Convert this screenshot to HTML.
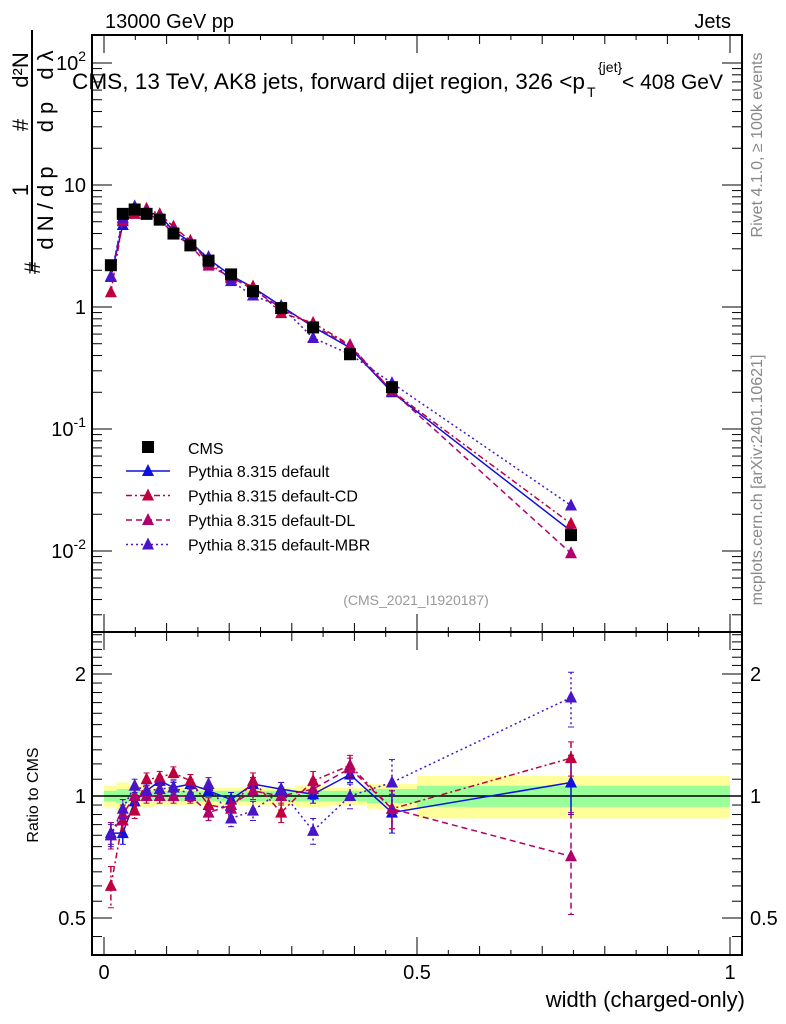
<!DOCTYPE html>
<html><head><meta charset="utf-8"><style>
body{margin:0;background:#fff;width:786px;height:1024px;overflow:hidden;font-family:"Liberation Sans",sans-serif}
svg{display:block}
text{font-family:"Liberation Sans",sans-serif}
</style></head><body>
<svg id="c" width="786" height="1024"></svg>
<script>
const xs=[0.011,0.030,0.049,0.068,0.089,0.111,0.138,0.167,0.203,0.238,0.283,0.334,0.393,0.460,0.746];
const cms=[2.2,5.8,6.3,5.8,5.2,4.0,3.2,2.4,1.85,1.35,0.98,0.68,0.41,0.22,0.0135];
const rDefault=[0.81,0.81,0.97,1.03,1.09,1.05,1.07,1.03,0.98,1.07,1.04,1.01,1.13,0.91,1.08];
const rCD=[0.60,0.87,0.92,1.10,1.11,1.14,1.09,0.95,0.93,1.09,0.91,1.09,1.19,0.93,1.24];
const rDL=[0.80,0.90,1.00,1.00,1.00,1.00,1.00,0.91,0.95,1.03,1.00,1.04,1.17,0.93,0.71];
const rMBR=[0.80,0.93,1.06,1.03,1.04,1.05,1.01,1.07,0.88,0.92,1.03,0.82,1.00,1.08,1.75];
const errDefault=[0.05,0.05,0.04,0.03,0.03,0.03,0.03,0.03,0.04,0.04,0.04,0.05,0.05,0.1,0.18];
const errCD=[0.07,0.05,0.04,0.04,0.04,0.04,0.04,0.04,0.04,0.05,0.05,0.06,0.07,0.1,0.12];
const errDL=[0.06,0.05,0.04,0.04,0.04,0.04,0.04,0.04,0.04,0.05,0.05,0.06,0.07,0.1,0.2];
const errMBR=[0.05,0.05,0.04,0.04,0.04,0.04,0.04,0.04,0.04,0.05,0.05,0.06,0.07,0.15,0.27];
const edges=[0,0.02,0.04,0.06,0.08,0.1,0.12,0.155,0.18,0.225,0.26,0.305,0.36,0.42,0.5,1];
const bandY=[0.06,0.08,0.06,0.06,0.05,0.05,0.05,0.05,0.05,0.05,0.05,0.06,0.05,0.07,0.12];
const bandG=[0.03,0.04,0.03,0.03,0.03,0.03,0.03,0.03,0.03,0.03,0.03,0.03,0.03,0.04,0.06];
const xTicks=[0,0.5,1];
const yMainTicks=[[100,"10"],[10,"10"],[1,"1"],[0.1,"10"],[0.01,"10"]];
const yRatioTicks=[[2,"2"],[1,"1"],[0.5,"0.5"]];

const S=document.getElementById('c');
const NS='http://www.w3.org/2000/svg';
function el(t,a,p){const e=document.createElementNS(NS,t);for(const k in a)e.setAttribute(k,a[k]);(p||S).appendChild(e);return e;}
const X=v=>104+626*v;
const YM=v=>307-122*Math.log10(v);
const YR=v=>796-122*Math.log2(v);
const L=92,R=742,T=35,M=632,B=955;

edges.slice(0,-1).forEach((e,i)=>{
  const r=el('rect',{x:X(e),y:YR(1+bandY[i]),width:X(edges[i+1])-X(e),height:YR(1-bandY[i])-YR(1+bandY[i]),fill:'#ffff99'});
  
  
});
edges.slice(0,-1).forEach((e,i)=>{
  const r=el('rect',{x:X(e),y:YR(1+bandG[i]),width:X(edges[i+1])-X(e),height:YR(1-bandG[i])-YR(1+bandG[i]),fill:'#99ff99'});
  
  
});
el('line',{x1:L,x2:R,y1:YR(1),y2:YR(1),stroke:'#000','stroke-width':1.5});

const f1=el('rect',{x:L,y:T,width:R-L,height:M-T,fill:'none',stroke:'#000','stroke-width':2});

const f2=el('rect',{x:L,y:M,width:R-L,height:B-M,fill:'none',stroke:'#000','stroke-width':2});


for(let v=0;v<=1.0001;v+=0.05){
  const big=Math.abs(v*2-Math.round(v*2))<1e-6, mid=Math.abs(v*10-Math.round(v*10))<1e-6;
  const h=big?18:(mid?9:5);
  [[T,1],[M,-1],[M,1],[B,-1]].forEach(([y,d])=>el('line',{x1:X(v),x2:X(v),y1:y,y2:y+d*h,stroke:'#000'}));
}
xTicks.forEach(v=>{const t=el('text',{x:X(v),y:979,'font-size':20,'text-anchor':'middle'});t.textContent=String(v);
});
for(let d=-3;d<=2;d++)for(let m=1;m<10;m++){const v=m*Math.pow(10,d);const y=YM(v);if(y<T||y>M)continue;
  const h=m==1?20:10;el('line',{x1:L,x2:L+h,y1:y,y2:y,stroke:'#000'});el('line',{x1:R,x2:R-h,y1:y,y2:y,stroke:'#000'});}
yMainTicks.forEach(([v,s])=>{const t=el('text',{x:86,y:YM(v)+7,'font-size':20,'text-anchor':'end'});
  
  if(s=="10"&&v!=10){const e=Math.round(Math.log10(v));t.textContent='10';const ts=el('tspan',{dy:-9,'font-size':14},t);ts.textContent=String(e);}else t.textContent=s;});
for(let v=0.45;v<=2.5;v+=0.05){const y=YR(v);if(y<M||y>B)continue;const big=[0.5,1,2].some(q=>Math.abs(q-v)<1e-6);
  const mid=Math.abs(v*10-Math.round(v*10))<1e-6;if(!mid&&v>1.01)continue;
  const h=big?20:10;el('line',{x1:L,x2:L+h,y1:y,y2:y,stroke:'#000'});el('line',{x1:R,x2:R-h,y1:y,y2:y,stroke:'#000'});}
yRatioTicks.forEach(([v,s])=>{[[86,'end'],[750,'start']].forEach(([x,a])=>{const t=el('text',{x:x,y:YR(v)+7,'font-size':20,'text-anchor':a});t.textContent=s;
  });});

const series=[
 {name:'default',r:rDefault,e:errDefault,c:'#1010e0',dash:'',lbl:'Pythia 8.315 default'},
 {name:'default-cd',r:rCD,e:errCD,c:'#c0003c',dash:'6,3,2,3',lbl:'Pythia 8.315 default-CD'},
 {name:'default-dl',r:rDL,e:errDL,c:'#b0006e',dash:'6,4',lbl:'Pythia 8.315 default-DL'},
 {name:'default-mbr',r:rMBR,e:errMBR,c:'#4a14c8',dash:'2,3',lbl:'Pythia 8.315 default-MBR'}];
function tri(x,y,c,g){el('polygon',{points:`${x},${y-7} ${x-6},${y+5} ${x+6},${y+5}`,fill:c},g);}
series.forEach(s=>{
  const g=el('g',{});
  const vals=cms.map((c,i)=>c*s.r[i]);
  el('polyline',{points:xs.map((x,i)=>X(x)+','+YM(vals[i])).join(' '),fill:'none',stroke:s.c,'stroke-width':1.5,'stroke-dasharray':s.dash},g);
  el('polyline',{points:xs.map((x,i)=>X(x)+','+YR(s.r[i])).join(' '),fill:'none',stroke:s.c,'stroke-width':1.5,'stroke-dasharray':s.dash},g);
  xs.forEach((x,i)=>{
    el('line',{x1:X(x),x2:X(x),y1:YR(s.r[i]+s.e[i]),y2:YR(Math.max(0.3,s.r[i]-s.e[i])),stroke:s.c,'stroke-width':1.5,'stroke-dasharray':s.dash},g);
    [s.r[i]+s.e[i],s.r[i]-s.e[i]].forEach(v=>el('line',{x1:X(x)-3,x2:X(x)+3,y1:YR(v),y2:YR(v),stroke:s.c},g));
    tri(X(x),YM(vals[i]),s.c,g);tri(X(x),YR(s.r[i]),s.c,g);
  });
});
const gc=el('g',{});
xs.forEach((x,i)=>el('rect',{x:X(x)-6,y:YM(cms[i])-6,width:12,height:12,fill:'#000'},gc));

const lg=el('g',{});
el('rect',{x:142,y:441,width:12,height:12,fill:'#000'},lg);
let t=el('text',{x:188,y:454,'font-size':16},lg);t.textContent='CMS';
series.forEach((s,i)=>{const y=471+i*24.5;
  el('line',{x1:126,x2:170,y1:y,y2:y,stroke:s.c,'stroke-width':1.5,'stroke-dasharray':s.dash},lg);tri(148,y,s.c,lg);
  const tt=el('text',{x:188,y:y+6,'font-size':16},lg);tt.textContent=s.lbl;});

function txt(x,y,s,a,name){const e=el('text',Object.assign({x:x,y:y},a));e.textContent=s;return e;}
txt(105,28,'13000 GeV pp',{'font-size':20},'energy-label');
txt(731,28,'Jets',{'font-size':20,'text-anchor':'end'},'process-label');
txt(72,89,'CMS, 13 TeV, AK8 jets, forward dijet region, 326 <p',{'font-size':22,textLength:513,lengthAdjust:'spacingAndGlyphs'},'plot-title');
txt(587,97,'T',{'font-size':14},'plot-title-sub');
txt(598,72,'{jet}',{'font-size':14},'plot-title-sup');
txt(622,89,'< 408 GeV',{'font-size':21},'plot-title-end');
txt(416,605,'(CMS_2021_I1920187)',{'font-size':14,fill:'#999','text-anchor':'middle'},'analysis-id');
txt(745,1007,'width (charged-only)',{'font-size':22,'text-anchor':'end'},'x-axis-title');
txt(0,0,'Ratio to CMS',{'font-size':16,'text-anchor':'middle',transform:'translate(38,795) rotate(-90)'},'ratio-y-axis-title');
const yg=el('g',{});
[['#',268,40,22],['1',190,28,22],['d N / d p',208,53,22],['#',125,28,22],['d p',117,53,22],['d²N',70,28,22],['d λ',65,53,22]].forEach(([s,y,x,f])=>{
  const e=el('text',{'font-size':f,'text-anchor':'middle',transform:`translate(${x},${y}) rotate(-90)`},yg);e.textContent=s;});
el('line',{x1:32,x2:32,y1:30,y2:270,stroke:'#000','stroke-width':2});
txt(0,0,'Rivet 4.1.0, ≥ 100k events',{'font-size':16,fill:'#888','text-anchor':'middle',transform:'translate(762,145) rotate(-90)'},'rivet-label');
txt(0,0,'mcplots.cern.ch [arXiv:2401.10621]',{'font-size':16,fill:'#888','text-anchor':'middle',transform:'translate(762,480) rotate(-90)'},'mcplots-label');
</script>
</body></html>
